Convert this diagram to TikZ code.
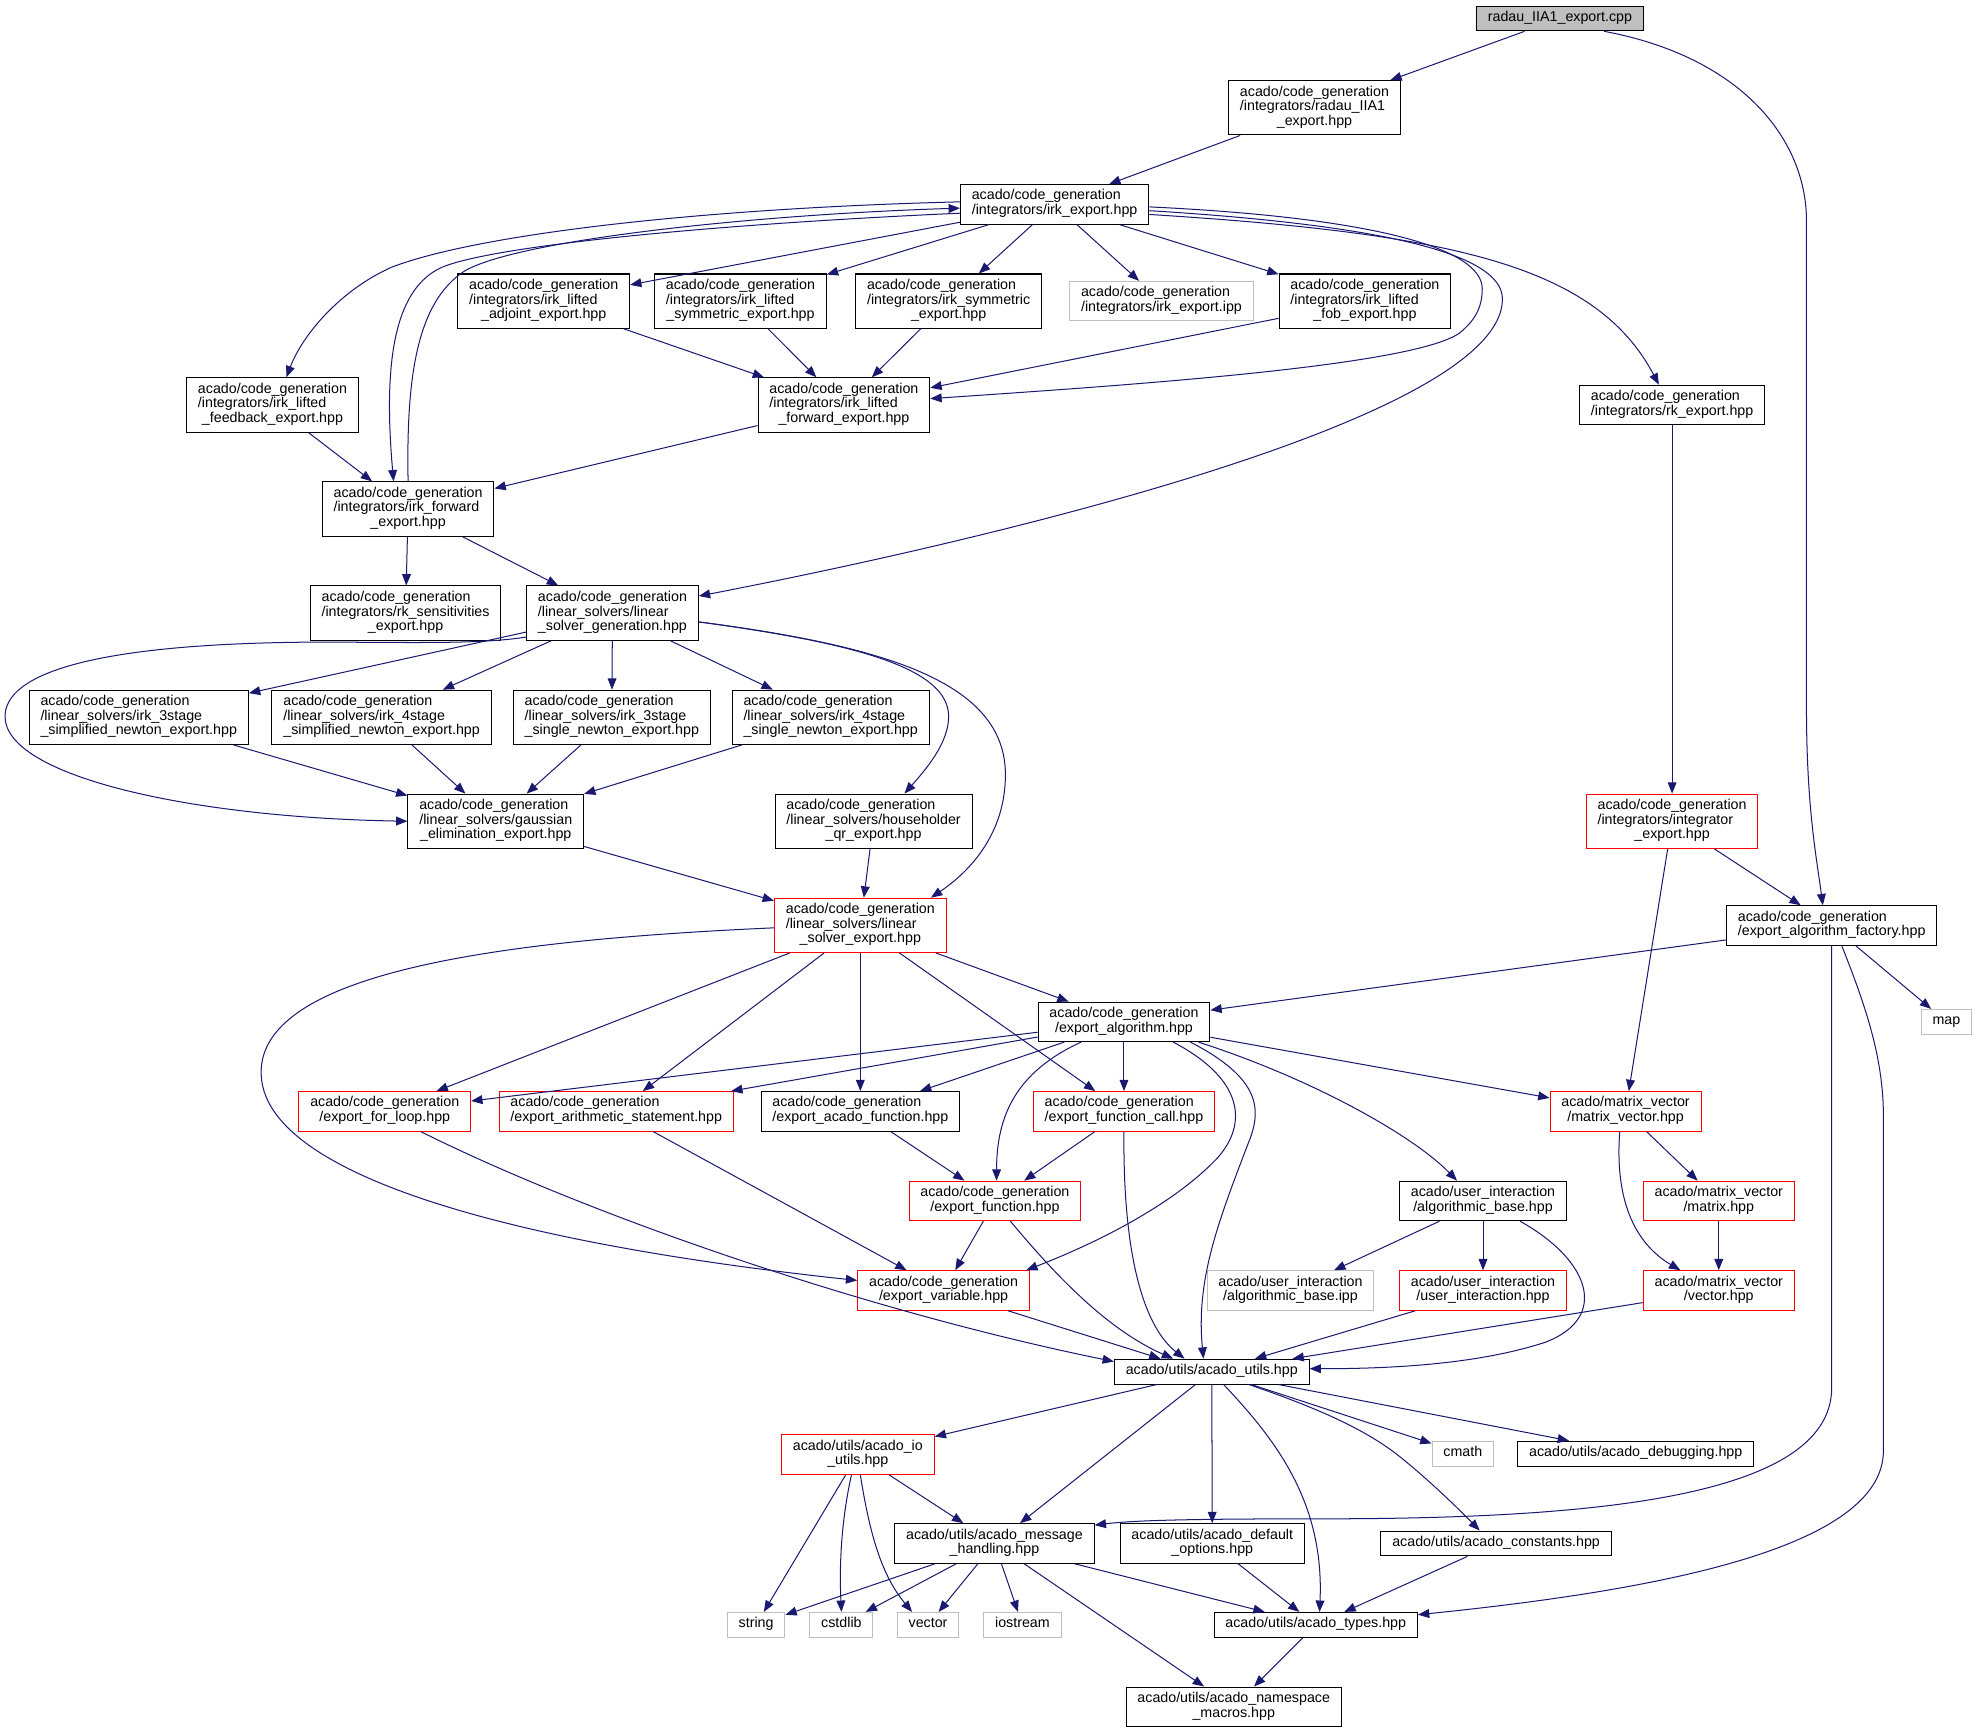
\documentclass[tikz,border=0pt]{standalone}
\usepackage{fontspec}
\setmainfont{Liberation Sans}
\usetikzlibrary{arrows.meta}
\definecolor{edgeblue}{HTML}{191970}
\definecolor{extgray}{HTML}{BFBFBF}
\newcommand{\onel}[1]{\begin{tabular}{@{}c@{}}#1\end{tabular}}
\newcommand{\twol}[2]{\begin{tabular}{@{}l@{}}#1\\\multicolumn{1}{@{}c@{}}{#2}\end{tabular}}
\tikzset{
incgraph/.style={
    >={Triangle[length=9pt,width=7pt]},
    x=1pt,
    y=-1pt,
    line width=0.8pt
},
file/.style={
    rectangle,
    draw=black,
    fill=white,
    inner xsep=9pt,
    inner ysep=4pt,
    font=\fontsize{11.3}{11.6}\selectfont
},
root/.style={
    file,
    fill=extgray
},
trunc/.style={
    file,
    draw=red
},
ext/.style={
    file,
    draw=extgray
},
incl/.style={
    ->,
    draw=edgeblue
}}

\begin{document}
\begin{tikzpicture}[incgraph]
\useasboundingbox (0,0) rectangle (1568,1373.6);
% files
\node[root]  (root)    at (1236.6,14.6) {\onel{radau\_IIA1\_export.cpp}};
\node[file]  (radh)    at (1042,85.5)   {\twol{acado/code\_generation\\/integrators/radau\_IIA1}{\_export.hpp}};
\node[file]  (irk)     at (836,162)     {\twol{acado/code\_generation}{/integrators/irk\_export.hpp}};
\node[file]  (adj)     at (431,238.7)   {\twol{acado/code\_generation\\/integrators/irk\_lifted}{\_adjoint\_export.hpp}};
\node[file]  (lsym)    at (587,238.7)   {\twol{acado/code\_generation\\/integrators/irk\_lifted}{\_symmetric\_export.hpp}};
\node[file]  (isym)    at (752,238.7)   {\twol{acado/code\_generation\\/integrators/irk\_symmetric}{\_export.hpp}};
\node[ext]   (ipp)     at (920.7,238.7) {\twol{acado/code\_generation}{/integrators/irk\_export.ipp}};
\node[file]  (fob)     at (1082,238.7)  {\twol{acado/code\_generation\\/integrators/irk\_lifted}{\_fob\_export.hpp}};
\node[file]  (fb)      at (216,321)     {\twol{acado/code\_generation\\/integrators/irk\_lifted}{\_feedback\_export.hpp}};
\node[file]  (lfwd)    at (669,321)     {\twol{acado/code\_generation\\/integrators/irk\_lifted}{\_forward\_export.hpp}};
\node[file]  (rk)      at (1325.5,321)  {\twol{acado/code\_generation}{/integrators/rk\_export.hpp}};
\node[file]  (fwd)     at (323.5,403.5) {\twol{acado/code\_generation\\/integrators/irk\_forward}{\_export.hpp}};
\node[file]  (sens)    at (321.5,486)   {\twol{acado/code\_generation\\/integrators/rk\_sensitivities}{\_export.hpp}};
\node[file]  (lingen)  at (485.5,486)   {\twol{acado/code\_generation\\/linear\_solvers/linear}{\_solver\_generation.hpp}};
\node[file]  (s3)      at (110,568.6)   {\twol{acado/code\_generation\\/linear\_solvers/irk\_3stage}{\_simplified\_newton\_export.hpp}};
\node[file]  (s4)      at (302.5,568.6) {\twol{acado/code\_generation\\/linear\_solvers/irk\_4stage}{\_simplified\_newton\_export.hpp}};
\node[file]  (n3)      at (485,568.6)   {\twol{acado/code\_generation\\/linear\_solvers/irk\_3stage}{\_single\_newton\_export.hpp}};
\node[file]  (n4)      at (658.5,568.6) {\twol{acado/code\_generation\\/linear\_solvers/irk\_4stage}{\_single\_newton\_export.hpp}};
\node[file]  (gauss)   at (393,651)     {\twol{acado/code\_generation\\/linear\_solvers/gaussian}{\_elimination\_export.hpp}};
\node[file]  (hh)      at (692.5,651)   {\twol{acado/code\_generation\\/linear\_solvers/householder}{\_qr\_export.hpp}};
\node[trunc] (integ)   at (1325.5,651)  {\twol{acado/code\_generation\\/integrators/integrator}{\_export.hpp}};
\node[trunc] (linexp)  at (682,733.5)   {\twol{acado/code\_generation\\/linear\_solvers/linear}{\_solver\_export.hpp}};
\node[file]  (fac)     at (1452,733.7)  {\twol{acado/code\_generation}{/export\_algorithm\_factory.hpp}};
\node[file]  (algo)    at (891,810)     {\twol{acado/code\_generation}{/export\_algorithm.hpp}};
\node[ext]   (map)     at (1543,810)    {\onel{map}};
\node[trunc] (forloop) at (305,881)     {\twol{acado/code\_generation}{/export\_for\_loop.hpp}};
\node[trunc] (arith)   at (488.5,881)   {\twol{acado/code\_generation}{/export\_arithmetic\_statement.hpp}};
\node[file]  (acfn)    at (682,881)     {\twol{acado/code\_generation}{/export\_acado\_function.hpp}};
\node[trunc] (fcall)   at (891,881)     {\twol{acado/code\_generation}{/export\_function\_call.hpp}};
\node[trunc] (mv)      at (1288.6,881)  {\twol{acado/matrix\_vector}{/matrix\_vector.hpp}};
\node[trunc] (efn)     at (788.7,952)   {\twol{acado/code\_generation}{/export\_function.hpp}};
\node[file]  (algbase) at (1175.6,952)  {\twol{acado/user\_interaction}{/algorithmic\_base.hpp}};
\node[trunc] (mat)     at (1362.5,952)  {\twol{acado/matrix\_vector}{/matrix.hpp}};
\node[trunc] (evar)    at (748,1023)    {\twol{acado/code\_generation}{/export\_variable.hpp}};
\node[ext]   (algipp)  at (1023,1023)   {\twol{acado/user\_interaction}{/algorithmic\_base.ipp}};
\node[trunc] (uint)    at (1175.6,1023) {\twol{acado/user\_interaction}{/user\_interaction.hpp}};
\node[trunc] (vec)     at (1362.5,1023) {\twol{acado/matrix\_vector}{/vector.hpp}};
\node[file]  (utils)   at (960.6,1087.3) {\onel{acado/utils/acado\_utils.hpp}};
\node[trunc] (ioutils) at (680,1153)    {\twol{acado/utils/acado\_io}{\_utils.hpp}};
\node[ext]   (cmath)   at (1159.6,1152.3) {\onel{cmath}};
\node[file]  (dbg)     at (1296.7,1152.3) {\onel{acado/utils/acado\_debugging.hpp}};
\node[file]  (msg)     at (788.3,1223.5) {\twol{acado/utils/acado\_message}{\_handling.hpp}};
\node[file]  (defopt)  at (961,1223.5)  {\twol{acado/utils/acado\_default}{\_options.hpp}};
\node[file]  (cnst)    at (1186,1223.5) {\onel{acado/utils/acado\_constants.hpp}};
\node[ext]   (string)  at (599.4,1288)  {\onel{string}};
\node[ext]   (cstdlib) at (667,1288)    {\onel{cstdlib}};
\node[ext]   (vector)  at (735.7,1288)  {\onel{vector}};
\node[ext]   (iostream) at (810.5,1288) {\onel{iostream}};
\node[file]  (types)   at (1043,1288)   {\onel{acado/utils/acado\_types.hpp}};
\node[file]  (macros)  at (978,1353)    {\twol{acado/utils/acado\_namespace}{\_macros.hpp}};

% includes of the top files
\path (root) edge[incl] (radh);
\draw[incl] ([xshift=35pt]root.south) .. controls (1380,45) and (1432,110) .. (1432,175) -- (1432,560) .. controls (1432,640) and (1440,680) .. ([xshift=-7pt]fac.north);
\path (radh) edge[incl] (irk);
\draw[incl] ([yshift=2pt]irk.west) .. controls (560,165) and (380,185) .. (310,212) .. controls (270,230) and (240,265) .. ([xshift=11pt]fb.north);
\draw[incl] ([yshift=-7pt]irk.west) .. controls (560,178) and (390,195) .. (350,212) .. controls (315,228) and (303,280) .. ([xshift=-11.5pt]fwd.north);
\draw[incl] (fwd.north) .. controls (322,300) and (330,240) .. (368,215) .. controls (410,190) and (600,170) .. ([yshift=-3pt]irk.west);
\path (irk) edge[incl] (adj);
\path (irk) edge[incl] (lsym);
\path (irk) edge[incl] (isym);
\path (irk) edge[incl] (ipp);
\path (irk) edge[incl] (fob);
\draw[incl] ([yshift=-2pt]irk.east) .. controls (1080,172) and (1175,195) .. (1175,229) .. controls (1175,245) and (1168,255) .. (1157,264) .. controls (1120,290) and (900,305) .. ([yshift=5pt]lfwd.east);
\draw[incl] ([yshift=-5pt]irk.east) .. controls (1090,178) and (1191,200) .. (1191,237) .. controls (1191,330) and (800,425) .. ([yshift=13.5pt]lingen.east);
\draw[incl] ([yshift=-8pt]irk.east) .. controls (1150,185) and (1265,210) .. ([xshift=-10.5pt]rk.north);
\path (adj) edge[incl] (lfwd);
\path (lsym) edge[incl] (lfwd);
\path (isym) edge[incl] (lfwd);
\path (fob) edge[incl] (lfwd);
\path (fb) edge[incl] (fwd);
\path (lfwd) edge[incl] (fwd);
\path (fwd) edge[incl] (sens);
\path (fwd) edge[incl] (lingen);
\path (rk) edge[incl] (integ);

% linear solvers
\path (lingen) edge[incl] (s3);
\path (lingen) edge[incl] (s4);
\path (lingen) edge[incl] (n3);
\path (lingen) edge[incl] (n4);
\draw[incl] ([yshift=-19pt]lingen.west) .. controls (380,511) and (320,509) .. (250,509) .. controls (70,510) and (4,535) .. (4,568) .. controls (4,615) and (150,648) .. (gauss.west);
\draw[incl] ([yshift=-7pt]lingen.east) .. controls (680,510) and (752,530) .. (752,568) .. controls (752,590) and (732,612) .. ([xshift=24.5pt]hh.north);
\draw[incl] ([yshift=-7pt]lingen.east) .. controls (700,512) and (797,540) .. (797,614) .. controls (797,660) and (770,690) .. ([xshift=56pt]linexp.north);
\path (s3) edge[incl] (gauss);
\path (s4) edge[incl] (gauss);
\path (n3) edge[incl] (gauss);
\path (n4) edge[incl] (gauss);
\path (gauss) edge[incl] (linexp);
\path (hh) edge[incl] (linexp);
\path (integ) edge[incl] (fac);
\path (integ) edge[incl] (mv);

% export code
\path (linexp) edge[incl] (algo);
\path (linexp) edge[incl] (forloop);
\path (linexp) edge[incl] (arith);
\path (linexp) edge[incl] (acfn);
\path (linexp) edge[incl] (fcall);
\draw[incl] ([yshift=-2pt]linexp.west) .. controls (400,745) and (207,770) .. (207,850) .. controls (207,930) and (400,985) .. ([yshift=8pt]evar.west);
\path (fac) edge[incl] (algo);
\path (fac) edge[incl] (map);
\draw[incl] (fac.south) -- (1452,1100) .. controls (1452,1190) and (1250,1204) .. (1045,1204) .. controls (950,1204) and (900,1205) .. ([yshift=14.5pt]msg.east);
\draw[incl] ([xshift=8pt]fac.south) .. controls (1480,800) and (1493,840) .. (1493,885) -- (1493,1150) .. controls (1493,1230) and (1300,1262) .. ([yshift=8pt]types.east);
\path (algo) edge[incl] (forloop);
\path (algo) edge[incl] (arith);
\path (algo) edge[incl] (acfn);
\path (algo) edge[incl] (fcall);
\path (algo) edge[incl] (mv);
\draw[incl] ([xshift=-34pt]algo.south) .. controls (805,850) and (790,885) .. ([xshift=1.3pt]efn.north);
\draw[incl] ([xshift=39pt]algo.south) .. controls (985,855) and (990,890) .. (965,918) .. controls (930,955) and (870,985) .. ([xshift=-3pt]evar.north east);
\draw[incl] ([xshift=52.6pt]algo.south) .. controls (1000,855) and (1000,880) .. (990,905) .. controls (965,970) and (948,1015) .. ([xshift=-6.6pt]utils.north);
\draw[incl] ([xshift=59pt]algo.south) .. controls (1040,855) and (1120,900) .. ([xshift=-20.6pt]algbase.north);
\path (acfn) edge[incl] (efn);
\path (fcall) edge[incl] (efn);
\draw[incl] (fcall.south) .. controls (890,990) and (905,1050) .. ([xshift=-21.6pt]utils.north);
\path (arith) edge[incl] (evar);
\draw[incl] ([xshift=28.6pt]forloop.south) .. controls (470,965) and (690,1040) .. ([yshift=8pt]utils.west);
\path (efn) edge[incl] (evar);
\draw[incl] ([xshift=12.3pt]efn.south) .. controls (840,1015) and (880,1055) .. ([xshift=-30.6pt]utils.north);
\path (evar) edge[incl] ([xshift=-40.6pt]utils.north);

% user interaction and matrices
\path (algbase) edge[incl] (algipp);
\path (algbase) edge[incl] (uint);
\draw[incl] ([xshift=29.4pt]algbase.south) .. controls (1262,1000) and (1275,1045) .. (1225,1064) .. controls (1170,1082) and (1100,1085) .. ([yshift=2.3pt]utils.east);
\path (uint) edge[incl] (utils);
\path (vec) edge[incl] (utils);
\path (mv) edge[incl] (mat);
\draw[incl] ([xshift=-4.6pt]mv.south) .. controls (1280,950) and (1295,985) .. ([xshift=-30.5pt]vec.north);
\path (mat) edge[incl] (vec);

% utils
\path (utils) edge[incl] (ioutils);
\path (utils) edge[incl] (msg);
\path (utils) edge[incl] (defopt);
\path (utils) edge[incl] (cmath);
\path (utils) edge[incl] (dbg);
\draw[incl] ([xshift=9.4pt]utils.south) .. controls (1010,1140) and (1050,1190) .. ([xshift=3pt]types.north);
\draw[incl] ([xshift=29.4pt]utils.south) .. controls (1050,1118) and (1085,1135) .. (1110,1155) .. controls (1135,1175) and (1160,1200) .. ([xshift=-13pt]cnst.north);
\path (ioutils) edge[incl] (string);
\draw[incl] ([xshift=-5pt]ioutils.south) .. controls (668,1200) and (665,1235) .. (cstdlib.north);
\draw[incl] ([xshift=2pt]ioutils.south) .. controls (690,1220) and (700,1250) .. ([xshift=-12.7pt]vector.north);
\path (ioutils) edge[incl] (msg);
\path (msg) edge[incl] (string);
\path (msg) edge[incl] (cstdlib);
\path (msg) edge[incl] (vector);
\path (msg) edge[incl] (iostream);
\path (msg) edge[incl] (types);
\path (msg) edge[incl] (macros);
\path (defopt) edge[incl] (types);
\path (cnst) edge[incl] (types);
\path (types) edge[incl] (macros);
\end{tikzpicture}
\end{document}
